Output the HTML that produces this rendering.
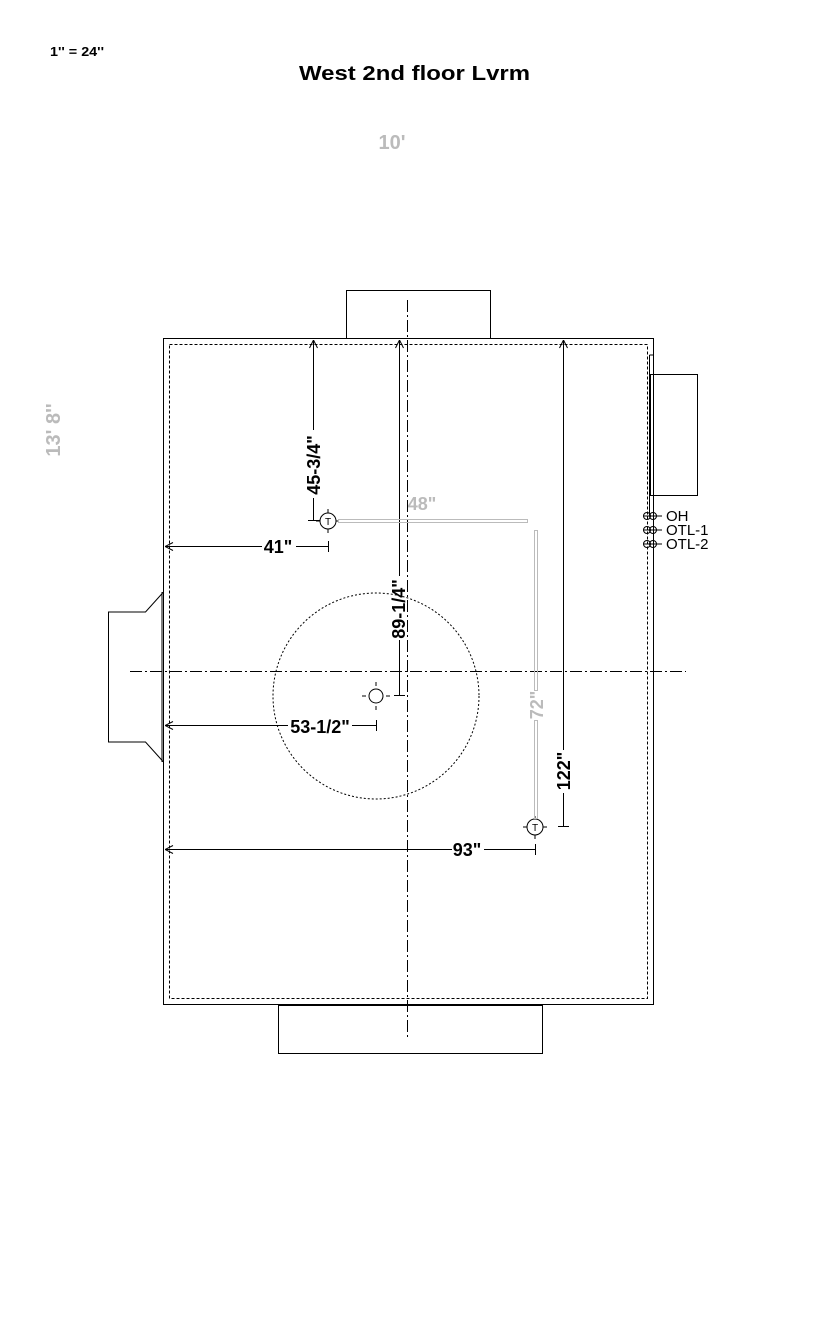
<!DOCTYPE html>
<html><head><style>html,body{margin:0;padding:0;background:#fff}svg{display:block}</style></head>
<body>
<svg width="816" height="1344" viewBox="0 0 816 1344" xmlns="http://www.w3.org/2000/svg" font-family="Liberation Sans, Arial, sans-serif">
<defs>
<marker id="a" markerWidth="10" markerHeight="10" refX="0" refY="5" orient="auto" markerUnits="userSpaceOnUse">
<path d="M8,1 L0,5 L8,9" fill="none" stroke="#000" stroke-width="1"/></marker>
</defs>
<text x="50" y="56" font-size="13" font-weight="bold" textLength="54" lengthAdjust="spacingAndGlyphs">1'' = 24''</text>
<text x="299" y="80" font-size="20" font-weight="bold" textLength="231" lengthAdjust="spacingAndGlyphs">West 2nd floor Lvrm</text>
<text x="392" y="149" font-size="20" font-weight="bold" fill="#bbb" text-anchor="middle">10'</text>
<text transform="translate(60,430) rotate(-90)" font-size="20" font-weight="bold" fill="#bbb" text-anchor="middle">13' 8''</text>
<g fill="none" stroke="#000" stroke-width="1">
<rect x="163.5" y="338.5" width="490" height="666"/>
<rect x="169.5" y="344.5" width="478" height="654" stroke-dasharray="3,2"/>
<rect x="346.5" y="290.5" width="144" height="48"/>
<rect x="278.5" y="1005.5" width="264" height="48"/>
<rect x="650.5" y="374.5" width="47" height="121"/>
<line x1="649.5" y1="355" x2="649.5" y2="515"/>
<line x1="649.5" y1="355" x2="654" y2="355"/>
<path d="M163.5,592 L145.5,612 L108.5,612 L108.5,742 L145.5,742 L163.5,762"/>
<line x1="162" y1="592" x2="162" y2="762"/>
<line x1="407.5" y1="300" x2="407.5" y2="1040" stroke-dasharray="12,3,2,3"/>
<line x1="130" y1="671.5" x2="686" y2="671.5" stroke-dasharray="12,3,2,3"/>
<circle cx="376" cy="696" r="103" stroke-dasharray="2,2"/>
<circle cx="376" cy="696" r="7"/>
<path d="M376,686v-4M376,706v4M366,696h-4M386,696h4"/>
<line x1="313.5" y1="340" x2="313.5" y2="430" marker-start="url(#a)"/>
<line x1="313.5" y1="498" x2="313.5" y2="520"/>
<line x1="308" y1="520.5" x2="320" y2="520.5"/>
<line x1="165" y1="546.5" x2="262" y2="546.5" marker-start="url(#a)"/>
<line x1="296" y1="546.5" x2="328" y2="546.5"/>
<line x1="328.5" y1="541" x2="328.5" y2="552"/>
<line x1="399.5" y1="340" x2="399.5" y2="576" marker-start="url(#a)"/>
<line x1="399.5" y1="640" x2="399.5" y2="695"/>
<line x1="394" y1="695.5" x2="405" y2="695.5"/>
<line x1="165" y1="725.5" x2="288" y2="725.5" marker-start="url(#a)"/>
<line x1="352" y1="725.5" x2="376" y2="725.5"/>
<line x1="376.5" y1="720" x2="376.5" y2="731"/>
<line x1="563.5" y1="340" x2="563.5" y2="750" marker-start="url(#a)"/>
<line x1="563.5" y1="793" x2="563.5" y2="826"/>
<line x1="558" y1="826.5" x2="569" y2="826.5"/>
<line x1="165" y1="849.5" x2="452" y2="849.5" marker-start="url(#a)"/>
<line x1="484" y1="849.5" x2="535" y2="849.5"/>
<line x1="535.5" y1="844" x2="535.5" y2="855"/>
<circle cx="328" cy="521" r="8"/>
<path d="M328,513v-4M328,529v4M320,521h-4M336,521h3"/>
<circle cx="535" cy="827" r="8"/>
<path d="M535,819v-3M535,835v4M527,827h-4M543,827h4"/>
</g>
<text x="328" y="525" font-size="10" text-anchor="middle">T</text>
<text x="535" y="831" font-size="10" text-anchor="middle">T</text>
<g fill="none" stroke="#bbb" stroke-width="1">
<rect x="338.5" y="519.5" width="189" height="3"/>
<rect x="534.5" y="530.5" width="3" height="160"/>
<rect x="534.5" y="720.5" width="3" height="98"/>
</g>
<text x="422" y="510" font-size="18" font-weight="bold" fill="#bbb" text-anchor="middle">48"</text>
<text transform="translate(543,705) rotate(-90)" font-size="18" font-weight="bold" fill="#bbb" text-anchor="middle">72"</text>
<g font-size="18" font-weight="bold">
<text transform="translate(320,465) rotate(-90)" text-anchor="middle">45-3/4"</text>
<text x="278" y="553" text-anchor="middle">41"</text>
<text transform="translate(405,609) rotate(-90)" text-anchor="middle">89-1/4"</text>
<text x="320" y="733" text-anchor="middle">53-1/2"</text>
<text transform="translate(570,771) rotate(-90)" text-anchor="middle">122"</text>
<text x="467" y="856" text-anchor="middle">93"</text>
</g>
<g fill="none" stroke="#000" stroke-width="1">
<circle cx="647" cy="516" r="3.5"/><circle cx="653" cy="516" r="3.5"/><line x1="643" y1="516" x2="662" y2="516"/>
<circle cx="647" cy="530" r="3.5"/><circle cx="653" cy="530" r="3.5"/><line x1="643" y1="530" x2="662" y2="530"/>
<circle cx="647" cy="544" r="3.5"/><circle cx="653" cy="544" r="3.5"/><line x1="643" y1="544" x2="662" y2="544"/>
</g>
<g font-size="15"><text x="666" y="521">OH</text><text x="666" y="535">OTL-1</text><text x="666" y="549">OTL-2</text></g>
</svg>
</body></html>
